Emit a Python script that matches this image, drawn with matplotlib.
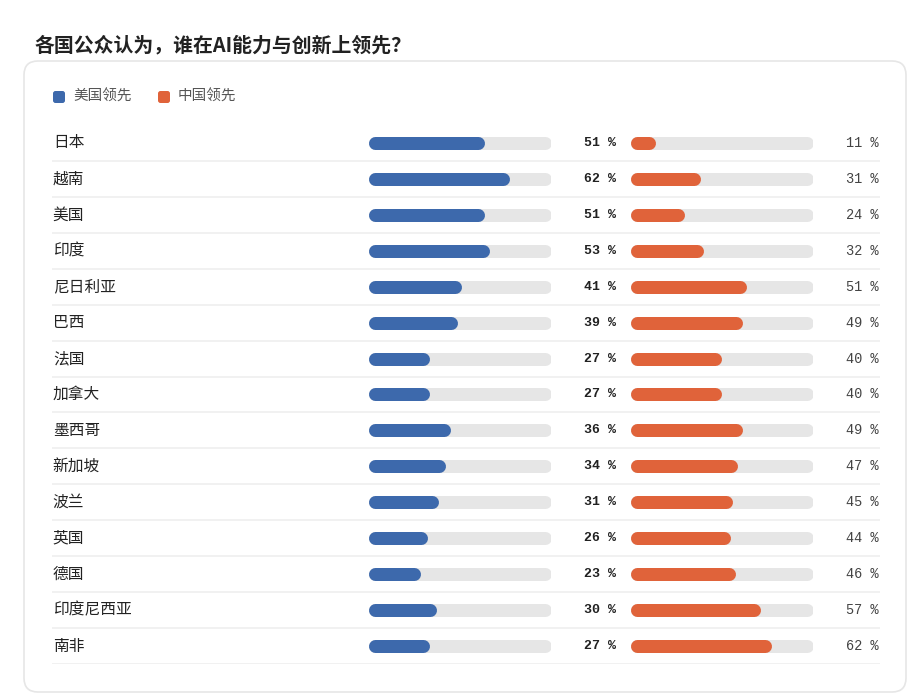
import numpy as np
import matplotlib
matplotlib.use('Agg')
import matplotlib.pyplot as plt
from matplotlib.patches import FancyBboxPatch

plt.rcParams['font.family'] = ['Noto Sans CJK SC', 'DejaVu Sans']

countries = ['日本', '越南', '美国', '印度', '尼日利亚', '巴西', '法国', '加拿大',
             '墨西哥', '新加坡', '波兰', '英国', '德国', '印度尼西亚', '南非']
us_lead = [51, 62, 51, 53, 41, 39, 27, 27, 36, 34, 31, 26, 23, 30, 27]
cn_lead = [11, 31, 24, 32, 51, 49, 40, 40, 49, 47, 45, 44, 46, 57, 62]
series_names = ['美国领先', '中国领先']
title = '各国公众认为，谁在AI能力与创新上领先？'

blue = '#3D69AC'
orange = '#E0633A'
track = '#E6E6E6'
scale_max = 80

W, H = 918, 696
fig = plt.figure(figsize=(W / 100, H / 100), dpi=100)
fig.patch.set_facecolor('white')

# background in pixel coords: title, card, legend
bg = fig.add_axes([0, 0, 1, 1])
bg.set_xlim(0, W)
bg.set_ylim(H, 0)
bg.axis('off')
bg.add_patch(FancyBboxPatch((24, 61), 882, 631, boxstyle='round,pad=0,rounding_size=14',
                            facecolor='white', edgecolor='#E6E6E6', linewidth=1.2))
bg.text(35, 45, title, fontsize=14.3, fontweight='bold', color='#222222', va='center', ha='left')
leg_x = [53, 158]
for lx, name, col in zip(leg_x, series_names, [blue, orange]):
    bg.add_patch(FancyBboxPatch((lx, 91), 12, 12, boxstyle='round,pad=0,rounding_size=2.5',
                                facecolor=col, edgecolor='none'))
    bg.text(lx + 20, 97, name, fontsize=10.5, color='#555555', va='center', ha='left')

n = len(countries)
rows = np.arange(n)

# row axes: labels, separators, values
ax = fig.add_axes([52 / W, 1 - 664 / H, (880 - 52) / W, (664 - 125) / H])
ax.set_xlim(0, 1)
ax.set_ylim(n - 0.5, -0.5)
ax.axis('off')
for i in rows:
    ax.axhline(i + 0.5, color='#EDEDED', linewidth=1.1)
    ax.text(0.001, i, countries[i], fontsize=11.3, fontweight='medium', color='#222222',
            va='center', ha='left')
    ax.text((616 - 52) / 828, i, f'{us_lead[i]} %', fontsize=9.5, fontweight='bold',
            family='Liberation Mono', color='#222222', va='center', ha='right')
    ax.text((878 - 52) / 828, i, f'{cn_lead[i]} %', fontsize=9.8,
            family='Liberation Mono', color='#444444', va='center', ha='right')

# bar axes
bar_px = 13
lw = bar_px * 72 / 100
for x0, vals, col in [(368, us_lead, blue), (630, cn_lead, orange)]:
    bax = fig.add_axes([x0 / W, 1 - 664 / H, 183 / W, (664 - 125) / H])
    bax.set_xlim(0, scale_max)
    bax.set_ylim(n - 0.5, -0.5)
    bax.axis('off')
    r = (bar_px / 2) * scale_max / 183
    for i, v in enumerate(vals):
        bax.plot([r, scale_max - r], [i, i], color=track, linewidth=lw, solid_capstyle='round')
        bax.plot([r, v - r], [i, i], color=col, linewidth=lw, solid_capstyle='round')

fig.savefig('out.png', dpi=100, facecolor='white')
